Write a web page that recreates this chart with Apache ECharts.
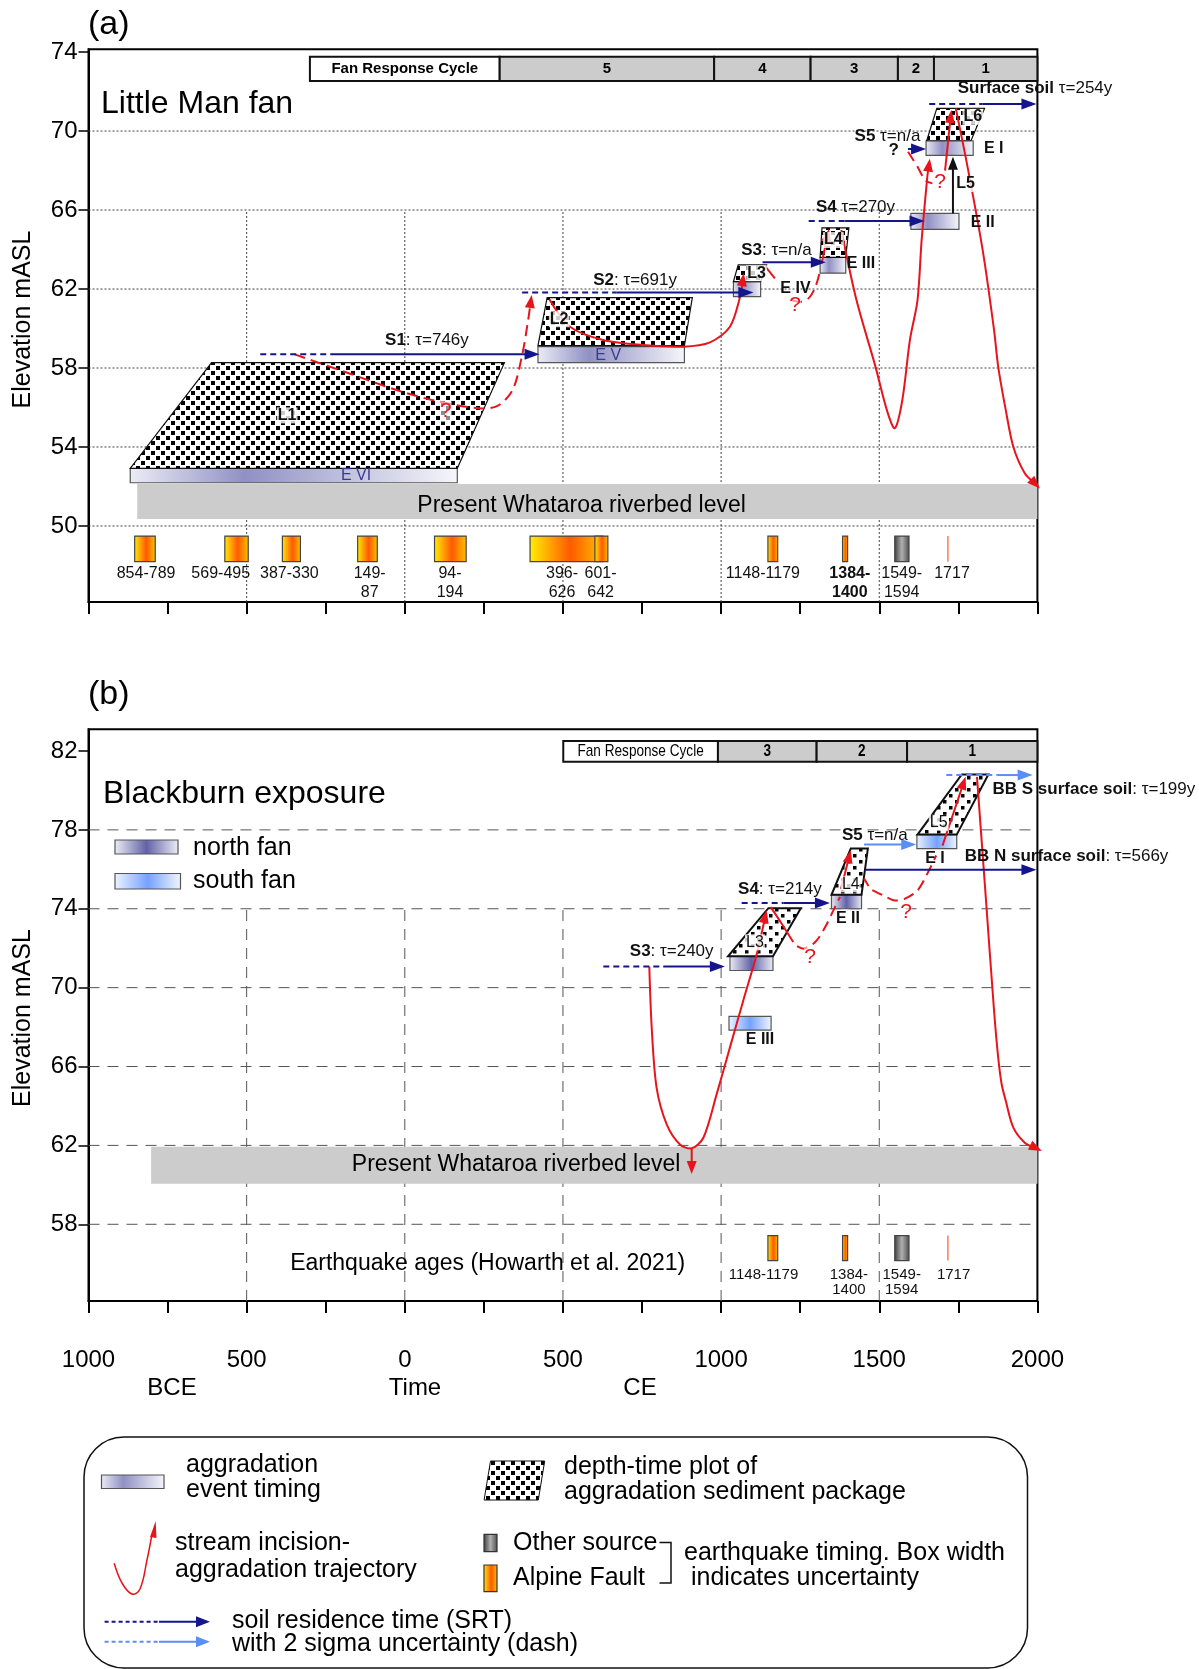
<!DOCTYPE html>
<html><head><meta charset="utf-8">
<script src="https://cdn.jsdelivr.net/npm/echarts@6/dist/echarts.min.js"></script>
<style>html,body{margin:0;padding:0;background:#fff}#c{width:1199px;height:1669px}</style>
</head><body><div id="c"></div>
<script>
const FONT = '"Liberation Sans", Arial, Helvetica, sans-serif';
const RED = '#e8141c', NAVY = '#14148c', LIGHTBLUE = '#5b8ef5';

// ---------- axes ----------
const X_RANGE = [-1000, 2000];
const X_TICKS = [-1000,-750,-500,-250,0,250,500,750,1000,1250,1500,1750,2000];
const X_LABELS = [-1000,-500,0,500,1000,1500,2000];
const A_Y_RANGE = [46.15, 74.14];
const A_Y_TICKS = [50,54,58,62,66,70,74];
const B_Y_RANGE = [54.11, 83.1];
const B_Y_TICKS = [58,62,66,70,74,78,82];

// ---------- panel (a) Little Man fan ----------
const A_hGrid = [50,54,58,62,66,70];
const A_vGrid = [-500,0,500,1000,1500];
const A_vGridTop = 66;
const A_cycleHeader = ['Fan Response Cycle', -300, 300];
const A_cycles = [['5',300,978],['4',978,1283],['3',1283,1559],['2',1559,1673],['1',1673,2000]];
const A_cycleBand = [72.53, 73.76];
const A_riverbed = [-846, 2000, 50.35, 52.12];
const A_riverText = ['Present Whataroa riverbed level', 559, 51.05];
// name, tStart, tEnd, eBottom, eTop
const A_events = [['E VI',-868,166,52.19,52.92],['E V',421,884,58.27,59.08],['E IV',1039,1125,61.61,62.37],
  ['E III',1313,1394,62.8,63.6],['E II',1600,1752,65.02,65.83],['E I',1648,1797,68.77,69.51]];
const A_eventLabels = [['E VI',-154,52.56,'in'],['E V',643,58.62,'in'],['E IV',1235,62.04,'out'],
  ['E III',1442,63.3,'out'],['E II',1827,65.36,'out'],['E I',1862,69.09,'out']];
// name, bottom-left t, bottom-right t, top-left t, top-right t, eBottom, eTop
const A_packages = [['L1',-868,166,-611,315,52.92,58.27],['L2',421,884,450,909,59.13,61.56],
  ['L3',1039,1125,1054,1144,62.37,63.22],['L4',1313,1394,1319,1404,63.6,65.1],['L6',1650,1790,1682,1833,69.51,71.15]];
const A_packageLabels = [['L1',-372,55.6],['L2',488,60.47],['L3',1112,62.8],['L4',1355,64.48],['L6',1796,70.72],['L5',1773,67.32]];
// dashed start, solid start, arrow end, elevation
const A_srt = [[-457,-227,426,58.7],[371,670,1102,61.83],[null,1131,1331,63.35],[1277,1392,1643,65.44],[null,1591,1648,69.09],[1658,1827,1997,71.37]];
const A_srtLabels = [['S1',': τ=746y',70,59.38],['S2',': τ=691y',728,62.42],['S3',': τ=n/a',1175,63.97],
  ['S4',' τ=270y',1425,66.14],['S5',' τ=n/a',1526,69.71],['Surface soil',' τ=254y',1748,72.16]];
const A_traj = [
  [[-348,58.69],[-191,57.81],[-9.5,56.8],[111,56.29],[233,55.96],[293,56.08],[341,56.89],[372,58.74],[390,60.43],[401,61.7]],
  [[457,61.48],[522,60.09],[627,59.42],[754,59.16],[880,59.08],[965,59.3],[1028,60.09],[1060,61.61],[1072,62.8]],
  [[1139,63.16],[1170,62.54]],
  [[1222,61.45],[1250,61.35],[1278,61.55],[1298,62.1],[1313,62.9]],
  [[1318,63.3],[1341,65.05]],
  [[1380,64.99],[1428,61.44],[1488,58.07],[1524,55.87],[1549,54.95],[1573,56.38],[1597,59.42],[1621,61.44],[1634,64.48],[1652,67.69],[1660,68.6]],
  [[1591,68.95],[1621,68.19],[1646,67.5],[1668,67.35]],
  [[1708,68.0],[1728,71.06]],
  [[1742,71.15],[1779,68.2],[1827,63.97],[1863,59.92],[1876,58.07],[1900,55.87],[1924,54.0],[1960,52.67],[2008,51.9]]
];
const A_blackArrow = [[1733,65.83],[1733,68.7]];
const A_qmarks = [[130,55.79,'r'],[1234,61.19,'r'],[1692,67.43,'r'],[1546,69.0,'k']];
// start, end, source (AF Alpine Fault, OS other source, H single year)
const A_quakes = [[-854,-789,'AF'],[-569,-495,'AF'],[-387,-330,'AF'],[-149,-87,'AF'],[94,194,'AF'],[396,626,'AF'],
  [601,642,'AF'],[1148,1179,'AF'],[1384,1400,'AF'],[1549,1594,'OS'],[1717,1717,'H']];
const A_quakeBand = [48.19, 49.49];
const A_quakeLabels = [['854-789',-818],['569-495',-582],['387-330',-365],['149-\n87',-111],['94-\n194',143],
  ['396-\n626',497],['601-\n642',619],['1148-1179',1132],['1384-\n1400',1407],['1549-\n1594',1571],['1717',1730]];
const A_quakeLabelTop = 48.05;

// ---------- panel (b) Blackburn exposure ----------
const B_hGrid = [58,62,66,70,74,78];
const B_vGrid = [-500,0,500,1000,1500];
const B_vGridTop = 74;
const B_cycleHeader = ['Fan Response Cycle', 501, 990];
const B_cycles = [['3',990,1302],['2',1302,1588],['1',1588,2000]];
const B_cycleBand = [81.46, 82.51];
const B_riverbed = [-802, 2000, 60.05, 61.93];
const B_riverText = ['Present Whataroa riverbed level', 352, 61.0];
const B_quakeText = ['Earthquake ages (Howarth et al. 2021)', 262, 55.98];
// name, tStart, tEnd, eBottom, eTop, fan (N north / S south)
const B_events = [['',1028,1164,70.87,71.59,'N'],['E II',1349,1444,74.0,74.71,'N'],['E I',1619,1745,77.05,77.76,'S'],['E III',1025,1158,67.85,68.54,'S']];
const B_eventLabels = [['E II',1401,73.49,'out'],['E I',1676,76.55,'out'],['E III',1123,67.36,'out']];
const B_packages = [['L3',1022,1164,1149.5,1252,71.59,74.03],['L4',1349,1444,1410,1464,74.71,77.05],['L5',1621,1745,1761,1845,77.76,80.81]];
const B_packageLabels = [['L3',1107,72.3],['L4',1410,75.24],['L5',1688,78.36]];
const B_srt = [[627.6,817,1012,71.07,'N'],[1065,1197,1344,74.29,'N'],[null,1452,1617,77.26,'S'],[null,1458,1997,75.98,'N'],[1712,1875,1985,80.78,'S']];
const B_srtLabels = [['S3',': τ=240y',843.7,71.85],['S4',': τ=214y',1186,74.98],['S5',' τ=n/a',1486,77.71],
  ['BB N surface soil',': τ=566y',1770,76.66],['BB S surface soil',': τ=199y',1858,80.07]];
const B_traj = [
  [[773,71.07],[780.6,67.98],[796,64.93],[828,63.07],[870,62.05],[907,61.85],[944,62.39],[986,64.6],[1028,66.97],[1070,69.34],[1113,71.72],[1144,73.92]],
  [[907,61.85],[907,60.55]],
  [[1157,74.08],[1191.6,73.24],[1228,72.31]],
  [[1240,72.1],[1262,71.98],[1297,72.3],[1329,73.07],[1355,73.92],[1376,74.6]],
  [[1379,75.0],[1410,76.97]],
  [[1452,75.53],[1466,75.15]],
  [[1478,74.95],[1510,74.7],[1549,74.42],[1580,74.5],[1621,74.93],[1652,75.78],[1680,76.7]],
  [[1700,77.2],[1773,80.69]],
  [[1809,80.69],[1836,74.76],[1863,68.83],[1876,66.46],[1887,65.1],[1900,64.26],[1924,62.9],[1960,62.14],[2014,61.72]]
];
const B_qmarks = [[1281,71.54,'r'],[1585,73.83,'r']];
const B_quakes = [[1148,1179,'AF'],[1384,1400,'AF'],[1549,1594,'OS'],[1717,1717,'H']];
const B_quakeBand = [56.16, 57.43];
const B_quakeLabels = [['1148-1179',1134],['1384-\n1400',1404],['1549-\n1594',1571],['1717',1735]];
const B_quakeLabelTop = 55.81;

// ---------- styles ----------
const A_trajStyle = [{d:1,a:1},{d:0,a:1},{d:0,a:0},{d:1,a:0},{d:0,a:1},{d:0,a:1},{d:1,a:0},{d:0,a:1},{d:0,a:1}];
const B_trajStyle = [{d:0,a:1},{d:0,a:1},{d:0,a:0},{d:1,a:0},{d:0,a:1},{d:0,a:0},{d:1,a:0},{d:0,a:1},{d:0,a:1}];
const A_quakeLabelBold = ['1384-\n1400'];

const G = echarts.graphic;
function lin(stops){ return new G.LinearGradient(0,0,1,0, stops.map(s=>({offset:s[0],color:s[1]}))); }
const GRAD_EVENT = () => lin([[0,'#ececf6'],[0.35,'#9090c4'],[1,'#f6f6fb']]);
const GRAD_NORTH = () => lin([[0,'#ededf6'],[0.5,'#6262a8'],[1,'#ededf6']]);
const GRAD_SOUTH = () => lin([[0,'#eef4ff'],[0.5,'#74a2ff'],[1,'#f2f7ff']]);
const GRAD_AF = () => lin([[0,'#fff000'],[0.55,'#ff5a00'],[1,'#ffc400']]);
const GRAD_OS = () => lin([[0,'#3a3a3a'],[0.5,'#b0b0b0'],[1,'#4a4a4a']]);

function makePattern(w, h, dots, s){
  const c = document.createElement('canvas'); c.width = w; c.height = h;
  const g = c.getContext('2d'); g.fillStyle = '#fff'; g.fillRect(0,0,w,h); g.fillStyle = '#000';
  dots.forEach(d => g.fillRect(d[0], d[1], s, s));
  return c;
}
const patA = makePattern(10, 10, [[1,1],[6,6]], 4);
const patB = makePattern(12, 12, [[1,2],[7,8]], 3.5);

// ---------- helpers ----------
function line(p0,p1,stroke,w,dash){ return {type:'line', shape:{x1:p0[0],y1:p0[1],x2:p1[0],y2:p1[1]}, style:{stroke:stroke, lineWidth:w, lineDash:dash||null}}; }
function rectPx(p0,p1,fill,stroke,w){
  const x=Math.min(p0[0],p1[0]), y=Math.min(p0[1],p1[1]);
  return {type:'rect', shape:{x:x,y:y,width:Math.abs(p1[0]-p0[0]),height:Math.abs(p1[1]-p0[1])}, style:{fill:fill, stroke:stroke||null, lineWidth:w||0}};
}
function txt(p,str,opt){ return {type:'text', style:Object.assign({text:str, x:p[0], y:p[1], fontFamily:FONT, fontSize:16, fill:'#000', align:'center', verticalAlign:'middle'}, opt||{})}; }
function narrowTxt(p,str,size,weight){
  return {type:'text', x:p[0], y:p[1], scaleX:0.8, style:{text:str, x:0, y:0, fontFamily:FONT, fontSize:size, fontWeight:weight||'normal', fill:'#000', align:'center', verticalAlign:'middle'}};
}
function arrow(pts,color,w,dash,hl,hw,smooth){
  const n=pts.length, tip=pts[n-1], prev=pts[n-2];
  let dx=tip[0]-prev[0], dy=tip[1]-prev[1]; const L=Math.hypot(dx,dy)||1; dx/=L; dy/=L;
  const base=[tip[0]-dx*hl, tip[1]-dy*hl];
  const body=pts.slice(0,n-1).concat([[tip[0]-dx*hl*0.6, tip[1]-dy*hl*0.6]]);
  return [
    {type:'polyline', shape:{points:body, smooth:smooth||0}, style:{fill:null, stroke:color, lineWidth:w, lineDash:dash||null}},
    {type:'polygon', shape:{points:[tip,[base[0]-dy*hw, base[1]+dx*hw],[base[0]+dy*hw, base[1]-dx*hw]]}, style:{fill:color, stroke:null}}
  ];
}
function richLabel(p,bold,rest,align){
  return {type:'text', style:{text:'{b|'+bold+'}{n|'+rest+'}', x:p[0], y:p[1], align:align, verticalAlign:'middle',
    rich:{b:{fontFamily:FONT,fontSize:17,fontWeight:'bold',fill:'#111'}, n:{fontFamily:FONT,fontSize:17,fill:'#111'}}}};
}

function makeRenderer(P){
  return function(params, api){
    const C=(t,e)=>api.coord([t,e]);
    const ch=[];
    P.hGrid.forEach(e=>ch.push(line(C(X_RANGE[0],e),C(X_RANGE[1],e),P.gridColor,1,P.gridDash)));
    P.vGrid.forEach(t=>ch.push(line(C(t,P.yRange[0]),C(t,P.vGridTop),P.gridColor,1,P.gridDash)));
    // riverbed
    const rb=P.riverbed;
    ch.push(rectPx(C(rb[0],rb[2]),C(rb[1],rb[3]),'#cccccc'));
    ch.push(txt(C(P.riverText[1],P.riverText[2]),P.riverText[0],{fontSize:23}));
    if (P.extraText) ch.push(txt(C(P.extraText[1],P.extraText[2]),P.extraText[0],{fontSize:23}));
    // cycle bar
    const cb=P.cycleBand, hd=P.cycleHeader;
    ch.push(rectPx(C(hd[1],cb[0]),C(hd[2],cb[1]),'#fff','#111',2));
    const hc=C((hd[1]+hd[2])/2,(cb[0]+cb[1])/2);
    ch.push(P.isB ? narrowTxt(hc,hd[0],17,'normal') : txt(hc,hd[0],{fontSize:15,fontWeight:'bold'}));
    P.cycles.forEach(c=>{
      ch.push(rectPx(C(c[1],cb[0]),C(c[2],cb[1]),'#cccccc','#111',2));
      const pc=C((c[1]+c[2])/2,(cb[0]+cb[1])/2);
      ch.push(P.isB ? narrowTxt(pc,c[0],17,'bold') : txt(pc,c[0],{fontSize:15,fontWeight:'bold'}));
    });
    // events
    P.events.forEach(ev=>{
      const g = P.isB ? (ev[5]==='S'?GRAD_SOUTH():GRAD_NORTH()) : GRAD_EVENT();
      ch.push(rectPx(C(ev[1],ev[3]),C(ev[2],ev[4]),g,'#555',1.2));
    });
    // packages
    P.packages.forEach(pk=>{
      ch.push({type:'polygon', shape:{points:[C(pk[1],pk[5]),C(pk[2],pk[5]),C(pk[4],pk[6]),C(pk[3],pk[6])]},
        style:{fill:{image:P.pattern, repeat:'repeat'}, stroke:'#111', lineWidth:P.pkgStroke}});
    });
    // earthquakes
    const qb=P.quakeBand;
    P.quakes.forEach(q=>{
      if (q[2]==='H') ch.push(line(C(q[0],qb[0]),C(q[0],qb[1]),'#ff7a5c',1.5));
      else ch.push(rectPx(C(q[0],qb[0]),C(q[1],qb[1]), q[2]==='AF'?GRAD_AF():GRAD_OS(), '#444',1.2));
    });
    P.quakeLabels.forEach(l=>ch.push(txt(C(l[1],P.quakeLabelTop),l[0],{fontSize:P.qFont,verticalAlign:'top',lineHeight:P.qLine,fill:'#111',
      fontWeight:(P.qBold.indexOf(l[0])>=0)?'bold':'normal'})));
    // trajectories
    P.traj.forEach((pts,i)=>{
      const st=P.trajStyle[i]; const px=pts.map(p=>C(p[0],p[1]));
      const dash=st.d?[11,6]:null;
      if (st.a) arrow(px,RED,2,dash,13,5,0.3).forEach(e=>ch.push(e));
      else ch.push({type:'polyline', shape:{points:px, smooth:0.3}, style:{fill:null, stroke:RED, lineWidth:2, lineDash:dash}});
    });
    if (P.blackArrow) arrow(P.blackArrow.map(p=>C(p[0],p[1])),'#111',2,null,13,5,0).forEach(e=>ch.push(e));
    // SRT arrows
    P.srt.forEach(s=>{
      const color = (s[4]==='S')?LIGHTBLUE:NAVY;
      if (s[0]!=null) ch.push(line(C(s[0],s[3]),C(s[1],s[3]),color,2,[6,4]));
      arrow([C(s[1],s[3]),C(s[2],s[3])],color,2,null,15,5.5,0).forEach(e=>ch.push(e));
    });
    // labels
    P.eventLabels.forEach(l=>{
      if (l[3]==='in') ch.push(txt(C(l[1],l[2]),l[0],{fontSize:16,fill:'#3a3a90'}));
      else ch.push(txt(C(l[1],l[2]),l[0],{fontSize:16,fontWeight:'bold',fill:'#111'}));
    });
    P.packageLabels.forEach(l=>ch.push(txt(C(l[1],l[2]),l[0],{fontSize:16,fontWeight:P.isB?'normal':'bold',fill:'#111',backgroundColor:'rgba(255,255,255,0.8)',padding:[0,1]})));
    P.srtLabels.forEach(l=>ch.push(richLabel(C(l[2],l[3]),l[0],l[1],l[0].length>3?'left':'center')));
    P.qmarks.forEach(q=>{
      if (q[2]==='k') ch.push(txt(C(q[0],q[1]),'?',{fontSize:17,fontWeight:'bold',fill:'#111'}));
      else ch.push(txt(C(q[0],q[1]),'?',{fontSize:21,fill:RED,backgroundColor:'rgba(255,255,255,0.55)'}));
    });
    return {type:'group', children:ch};
  };
}

const PANEL_A = {isB:false, yRange:A_Y_RANGE, hGrid:A_hGrid, vGrid:A_vGrid, vGridTop:A_vGridTop, gridDash:[2,2], gridColor:'#444',
  riverbed:A_riverbed, riverText:A_riverText, cycleHeader:A_cycleHeader, cycles:A_cycles, cycleBand:A_cycleBand,
  events:A_events, eventLabels:A_eventLabels, packages:A_packages, packageLabels:A_packageLabels, pattern:patA, pkgStroke:1.2,
  quakes:A_quakes, quakeBand:A_quakeBand, quakeLabels:A_quakeLabels, quakeLabelTop:A_quakeLabelTop, qFont:16, qLine:19, qBold:A_quakeLabelBold,
  srt:A_srt, srtLabels:A_srtLabels, traj:A_traj, trajStyle:A_trajStyle, blackArrow:A_blackArrow, qmarks:A_qmarks};
const PANEL_B = {isB:true, yRange:B_Y_RANGE, hGrid:B_hGrid, vGrid:B_vGrid, vGridTop:B_vGridTop, gridDash:[11,8], gridColor:'#555',
  riverbed:B_riverbed, riverText:B_riverText, extraText:B_quakeText, cycleHeader:B_cycleHeader, cycles:B_cycles, cycleBand:B_cycleBand,
  events:B_events, eventLabels:B_eventLabels, packages:B_packages, packageLabels:B_packageLabels, pattern:patB, pkgStroke:2,
  quakes:B_quakes, quakeBand:B_quakeBand, quakeLabels:B_quakeLabels, quakeLabelTop:B_quakeLabelTop, qFont:15, qLine:15, qBold:[],
  srt:B_srt, srtLabels:B_srtLabels, traj:B_traj, trajStyle:B_trajStyle, blackArrow:null, qmarks:B_qmarks};

function xAxisCfg(idx, showLabels){
  return {type:'value', gridIndex:idx, min:X_RANGE[0], max:X_RANGE[1],
    axisLine:{show:true, onZero:false, lineStyle:{color:'#000', width:2}},
    axisTick:{show:true, length:12, customValues:X_TICKS, lineStyle:{color:'#000', width:2}},
    axisLabel:{show:showLabels, customValues:X_LABELS, formatter:v=>String(Math.abs(v)), fontSize:24, color:'#000', fontFamily:FONT, margin:47},
    splitLine:{show:false}};
}
function yAxisCfg(idx, range, ticks){
  return {type:'value', gridIndex:idx, min:range[0], max:range[1],
    axisLine:{show:true, onZero:false, lineStyle:{color:'#000', width:2}},
    axisTick:{show:true, length:10, customValues:ticks, lineStyle:{color:'#000', width:1.5}},
    axisLabel:{show:true, customValues:ticks, fontSize:24, color:'#000', fontFamily:FONT, margin:11},
    splitLine:{show:false}};
}

function gtext(x,y,str,opt){ return {type:'text', x:x, y:y, silent:true, style:Object.assign({text:str, x:0, y:0, fontFamily:FONT, fontSize:25, fill:'#000', align:'left', verticalAlign:'middle'}, opt||{})}; }
function grect(x,y,w,h,fill,stroke){ return {type:'rect', silent:true, shape:{x:x,y:y,width:w,height:h}, style:{fill:fill, stroke:stroke||'#555', lineWidth:1.2}}; }

const graphic = [
  gtext(88,25,'(a)',{fontSize:34}),
  gtext(101,104,'Little Man fan',{fontSize:32}),
  gtext(88,695,'(b)',{fontSize:34}),
  gtext(103,794,'Blackburn exposure',{fontSize:32}),
  {type:'text', x:23, y:319.5, rotation:Math.PI/2, silent:true, style:{text:'Elevation mASL', x:0, y:0, fontFamily:FONT, fontSize:25, fill:'#000', align:'center', verticalAlign:'middle'}},
  {type:'text', x:23, y:1018, rotation:Math.PI/2, silent:true, style:{text:'Elevation mASL', x:0, y:0, fontFamily:FONT, fontSize:25, fill:'#000', align:'center', verticalAlign:'middle'}},
  gtext(172,1388,'BCE',{fontSize:24, align:'center'}),
  gtext(415,1388,'Time',{fontSize:24, align:'center'}),
  gtext(640,1388,'CE',{fontSize:24, align:'center'}),
  grect(115,840,63,14,GRAD_NORTH()),
  gtext(193,848,'north fan'),
  grect(115,873.5,65.5,15.5,GRAD_SOUTH()),
  gtext(193,881,'south fan'),
  // legend panel
  {type:'rect', silent:true, shape:{x:84,y:1437,width:943.5,height:231,r:40}, style:{fill:null, stroke:'#111', lineWidth:1.5}},
  grect(101.5,1475,62.5,13.5,GRAD_EVENT()),
  gtext(186,1465,'aggradation'),
  gtext(186,1490,'event timing'),
  {type:'polygon', silent:true, shape:{points:[[490.5,1461],[544.7,1461],[538.3,1500],[484.1,1500]]}, style:{fill:{image:patA, repeat:'repeat'}, stroke:'#111', lineWidth:1}},
  gtext(564,1467,'depth-time plot of'),
  gtext(564,1492,'aggradation sediment package'),
  {type:'polyline', silent:true, shape:{points:[[114.2,1563.3],[122,1583],[132,1594],[140,1589],[147,1560],[151.5,1537]], smooth:0.4}, style:{fill:null, stroke:RED, lineWidth:1.5}},
  {type:'polygon', silent:true, shape:{points:[[155.7,1521],[150,1537],[156.5,1538]]}, style:{fill:RED}},
  gtext(175,1543,'stream incision-'),
  gtext(175,1570,'aggradation trajectory'),
  grect(484,1534.3,13,17.4,GRAD_OS(),'#333'),
  grect(484,1565,13,26.7,GRAD_AF(),'#333'),
  gtext(513,1543,'Other source'),
  gtext(513,1578,'Alpine Fault'),
  {type:'polyline', silent:true, shape:{points:[[659.5,1542.5],[671,1542.5],[671,1583],[659.5,1583]]}, style:{fill:null, stroke:'#111', lineWidth:1.5}},
  gtext(684,1553,'earthquake timing. Box width'),
  gtext(691,1578,'indicates uncertainty'),
  {type:'line', silent:true, shape:{x1:104.6,y1:1621.7,x2:159,y2:1621.7}, style:{stroke:NAVY, lineWidth:2, lineDash:[4,3]}},
  {type:'line', silent:true, shape:{x1:159,y1:1621.7,x2:200,y2:1621.7}, style:{stroke:NAVY, lineWidth:2}},
  {type:'polygon', silent:true, shape:{points:[[210,1621.7],[196,1616.2],[196,1627.2]]}, style:{fill:NAVY}},
  {type:'line', silent:true, shape:{x1:104.6,y1:1641.7,x2:159,y2:1641.7}, style:{stroke:LIGHTBLUE, lineWidth:2, lineDash:[4,3]}},
  {type:'line', silent:true, shape:{x1:159,y1:1641.7,x2:200,y2:1641.7}, style:{stroke:LIGHTBLUE, lineWidth:2}},
  {type:'polygon', silent:true, shape:{points:[[210,1641.7],[196,1636.2],[196,1647.2]]}, style:{fill:LIGHTBLUE}},
  gtext(232,1621,'soil residence time (SRT)'),
  gtext(232,1644,'with 2 sigma uncertainty (dash)')
];

const chart = echarts.init(document.getElementById('c'), null, {renderer:'canvas'});
chart.setOption({
  animation:false,
  backgroundColor:'#fff',
  grid:[
    {left:88.5, top:49.3, width:948.9, height:552.7, show:true, borderColor:'#000', borderWidth:2, containLabel:false, outerBoundsMode:'none'},
    {left:88.5, top:729.3, width:948.9, height:571.7, show:true, borderColor:'#000', borderWidth:2, containLabel:false, outerBoundsMode:'none'}
  ],
  xAxis:[xAxisCfg(0,false), xAxisCfg(1,true)],
  yAxis:[yAxisCfg(0,A_Y_RANGE,A_Y_TICKS), yAxisCfg(1,B_Y_RANGE,B_Y_TICKS)],
  series:[
    {type:'custom', xAxisIndex:0, yAxisIndex:0, renderItem:makeRenderer(PANEL_A), data:[[0,60]], silent:true, clip:false, z:5},
    {type:'custom', xAxisIndex:1, yAxisIndex:1, renderItem:makeRenderer(PANEL_B), data:[[0,70]], silent:true, clip:false, z:5}
  ],
  graphic:graphic
});
</script></body></html>
